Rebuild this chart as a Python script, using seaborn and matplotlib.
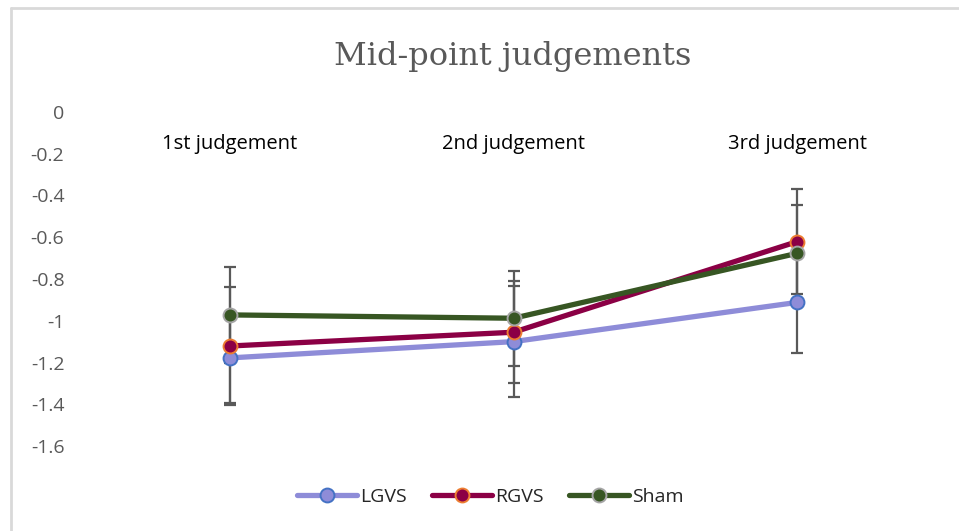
import numpy as np
import pandas as pd
import matplotlib
matplotlib.use("Agg")
import matplotlib.pyplot as plt
from matplotlib.lines import Line2D
import seaborn as sns

# values
judgements = ["1st judgement", "2nd judgement", "3rd judgement"]
groups = ["LGVS", "RGVS", "Sham"]
lgvs = [-1.178, -1.100, -0.912]
rgvs = [-1.121, -1.055, -0.621]
sham = [-0.972, -0.988, -0.677]
lgvs_err = [0.216, 0.265, 0.241]
rgvs_err = [0.283, 0.245, 0.251]
sham_err = [0.229, 0.228, 0.232]
y_ticks = [0, -0.2, -0.4, -0.6, -0.8, -1, -1.2, -1.4, -1.6]

line_colors = {"LGVS": "#8E8CD8", "RGVS": "#8B0045", "Sham": "#375623"}
edge_colors = {"LGVS": "#4472C4", "RGVS": "#ED7D31", "Sham": "#A5A5A5"}

df = pd.DataFrame({
    "judgement": judgements * 3,
    "group": np.repeat(groups, 3),
    "value": lgvs + rgvs + sham,
    "err": lgvs_err + rgvs_err + sham_err,
})

sns.set_style("white")
plt.rcParams["font.family"] = ["Open Sans", "DejaVu Sans"]

fig = plt.figure(figsize=(9.59, 5.31), dpi=100)
ax = fig.add_axes([88 / 959, 1 - 446 / 531, (939 - 88) / 959, (446 - 112) / 531])

# light frame of the chart area (left and top edges visible)
fig.add_artist(Line2D([11 / 959, 11 / 959], [0, 1 - 8 / 531], transform=fig.transFigure,
                      color="#D9D9D9", lw=2))
fig.add_artist(Line2D([11 / 959, 1], [1 - 8 / 531, 1 - 8 / 531], transform=fig.transFigure,
                      color="#D9D9D9", lw=2))

pos = {j: i for i, j in enumerate(judgements)}
df["x"] = df["judgement"].map(pos)

# error bars first so markers sit on top
for g in groups:
    sub = df[df["group"] == g]
    ax.errorbar(sub["x"], sub["value"], yerr=sub["err"], fmt="none",
                ecolor="#595959", elinewidth=1.6, capsize=4.5, capthick=1.6, zorder=2)

for g in groups:
    sub = df[df["group"] == g]
    sns.lineplot(data=sub, x="x", y="value", ax=ax, color=line_colors[g],
                 lw=3.8, marker="o", markersize=10, markerfacecolor=line_colors[g],
                 markeredgecolor=edge_colors[g], markeredgewidth=1.4, label=g, zorder=3)

ax.set_xlim(-0.5, 2.5)
ax.set_ylim(-1.6, 0)
ax.set_xticks([])
ax.set_yticks(y_ticks)
ax.set_yticklabels([f"{t:g}" for t in y_ticks], color="#595959", fontsize=14)
ax.tick_params(axis="y", length=0, pad=17)
ax.set_xlabel("")
ax.set_ylabel("")
for s in ax.spines.values():
    s.set_visible(False)

for j in judgements:
    ax.text(pos[j], -0.152, j, ha="center", va="center", fontsize=14.5, color="black")

fig.text(513 / 959, 1 - 57 / 531, "Mid-point judgements", ha="center", va="center",
         fontsize=23, color="#595959", family=["DejaVu Serif"])

ax.legend(loc="center", bbox_to_anchor=(490 / 959, 1 - 497 / 531),
          bbox_transform=fig.transFigure, ncol=3, frameon=False, fontsize=14,
          handlelength=3.1, handletextpad=0.15, columnspacing=1.3)

fig.savefig("out.png", dpi=100)
